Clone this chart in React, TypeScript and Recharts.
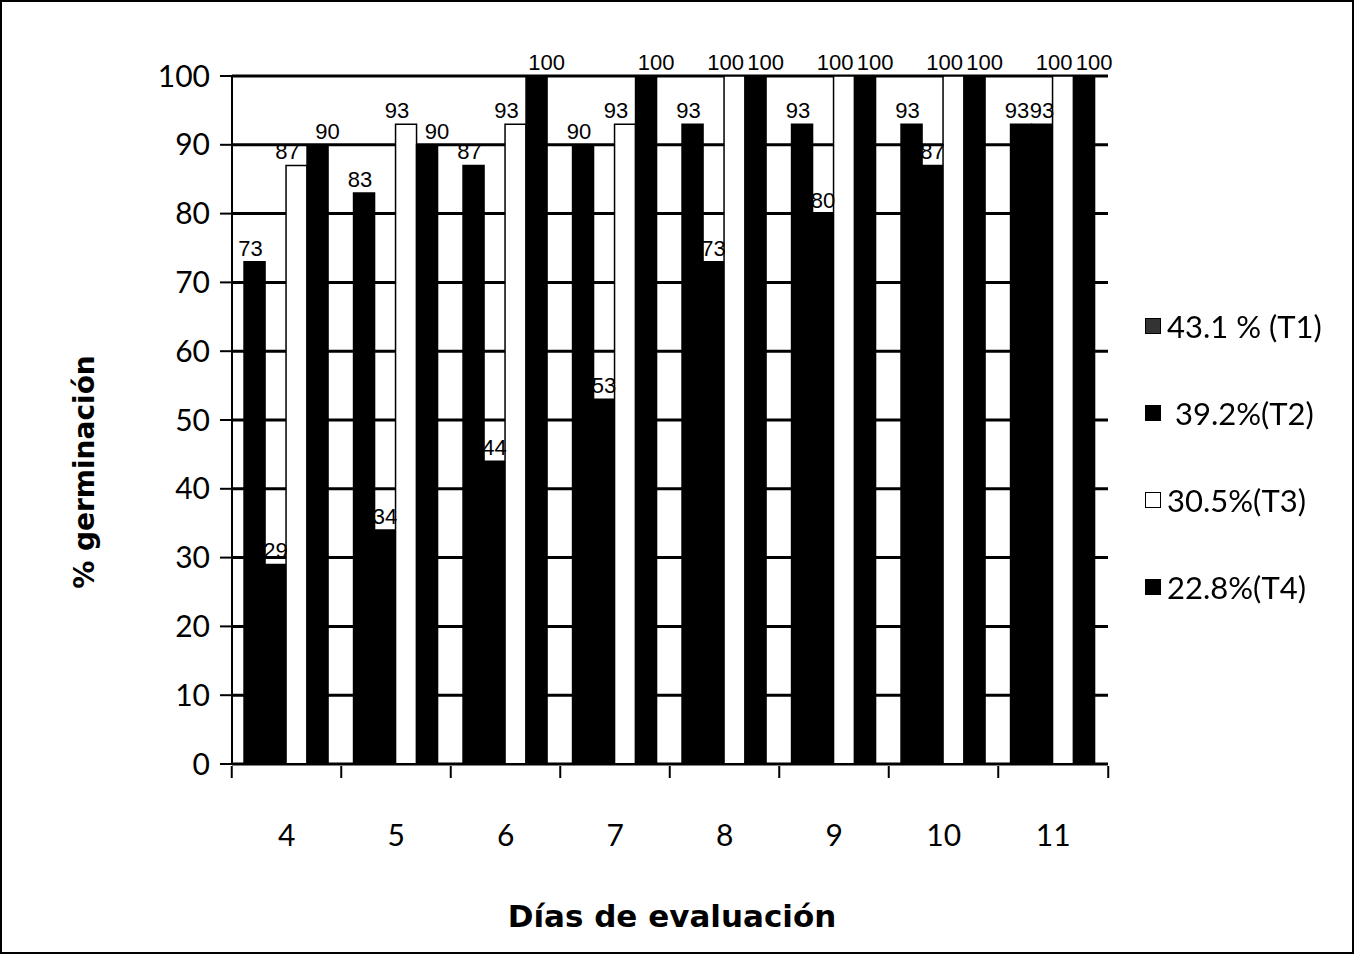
import { BarChart, Bar, XAxis, YAxis, CartesianGrid, LabelList, Label } from 'recharts';

const days = ['4', '5', '6', '7', '8', '9', '10', '11'];
const t1 = [73, 83, 87, 90, 93, 93, 93, 93];
const t2 = [29, 34, 44, 53, 73, 80, 87, 93];
const t3 = [87, 93, 93, 93, 100, 100, 100, 100];
const t4 = [90, 90, 100, 100, 100, 100, 100, 100];
const yTicks = [0, 10, 20, 30, 40, 50, 60, 70, 80, 90, 100];

const seriesNames = ['43.1 % (T1)', ' 39.2%(T2)', '30.5%(T3)', '22.8%(T4)'];
const seriesKeys = ['t1', 't2', 't3', 't4'];
const seriesFill = ['#000000', '#000000', '#ffffff', '#000000'];
const legendFill = ['#333333', '#000000', '#ffffff', '#000000'];
// nudge labels apart so neighbouring "100"s don't collide
const labelShift = [-4, 0, -9, 10];

const data = days.map((d, i) => ({ day: d, t1: t1[i], t2: t2[i], t3: t3[i], t4: t4[i] }));

const W = 1354;
const H = 954;
const plotLeft = 230;
const plotRight = 1110;
const band = (plotRight - plotLeft) / days.length;

const labelFont = '"Liberation Sans", Arial, sans-serif';
const tickFont = 'Lato, "Open Sans", sans-serif';

function XTick(props: any) {
  const { x, y, payload } = props;
  return (
    <g>
      <line x1={x - band / 2} x2={x - band / 2} y1={y - 6} y2={y + 6} stroke="#000" strokeWidth={2} />
      {payload.index === days.length - 1 && (
        <line x1={x + band / 2} x2={x + band / 2} y1={y - 6} y2={y + 6} stroke="#000" strokeWidth={2} />
      )}
      <text x={x} y={y + 66} textAnchor="middle" fontSize={30} fontFamily={tickFont} fill="#000" dominantBaseline="middle">
        {payload.value}
      </text>
    </g>
  );
}

function LegendBox() {
  return (
    <div
      style={{
        position: 'absolute',
        left: 1143,
        top: 280,
        width: 210,
        fontFamily: tickFont,
        fontSize: 31,
        color: '#000',
      }}
    >
      {seriesNames.map((n, i) => (
        <div key={n} style={{ display: 'flex', alignItems: 'center', height: 87, whiteSpace: 'pre' }}>
          <span
            style={{
              display: 'inline-block',
              width: 14,
              height: 14,
              background: legendFill[i],
              border: '1.5px solid #000',
              marginRight: 6,
            }}
          />
          {n}
        </div>
      ))}
    </div>
  );
}

export default function App() {
  return (
    <div
      style={{
        position: 'fixed',
        left: 0,
        top: 0,
        width: W,
        height: H,
        border: '2px solid #000',
        boxSizing: 'border-box',
        background: '#fff',
      }}
    >
      <BarChart
        width={W - 4}
        height={H - 4}
        data={data}
        margin={{ top: 74, right: W - plotRight, bottom: 0, left: 0 }}
        barCategoryGap="11%"
        barGap={0}
      >
        <CartesianGrid vertical={false} stroke="#000" strokeWidth={3} />
        <XAxis
          dataKey="day"
          height={188}
          tick={<XTick />}
          tickLine={false}
          axisLine={{ stroke: '#000', strokeWidth: 2 }}
          interval={0}
        >
          <Label
            content={() => (
              <text
                x={plotLeft + (plotRight - plotLeft) / 2}
                y={916}
                textAnchor="middle"
                dominantBaseline="middle"
                fontSize={31}
                fontWeight="bold"
                fontFamily='"DejaVu Sans", sans-serif'
                fill="#000"
              >
                Días de evaluación
              </text>
            )}
          />
        </XAxis>
        <YAxis
          width={plotLeft}
          domain={[0, 100]}
          ticks={yTicks}
          interval={0}
          tick={{ fontSize: 30, fontFamily: tickFont, fill: '#000' }}
          tickSize={12}
          tickMargin={10}
          tickLine={{ stroke: '#000', strokeWidth: 2 }}
          axisLine={{ stroke: '#000', strokeWidth: 2 }}
        >
          <Label
            content={() => (
              <text
                x={84}
                y={470}
                transform="rotate(-90 84 470)"
                textAnchor="middle"
                dominantBaseline="middle"
                fontSize={28}
                fontWeight="bold"
                fontFamily='"DejaVu Sans", sans-serif'
                fill="#000"
              >
                % germinación
              </text>
            )}
          />
        </YAxis>
        {seriesKeys.map((k, i) => (
          <Bar
            key={k}
            dataKey={k}
            name={seriesNames[i]}
            fill={seriesFill[i]}
            stroke="#000"
            strokeWidth={1.5}
            isAnimationActive={false}
          >
            <LabelList
              dataKey={k}
              position="top"
              offset={6}
              dx={labelShift[i]}
              fontSize={22}
              fontFamily={labelFont}
              fill="#000"
            />
          </Bar>
        ))}
      </BarChart>
      <LegendBox />
    </div>
  );
}
